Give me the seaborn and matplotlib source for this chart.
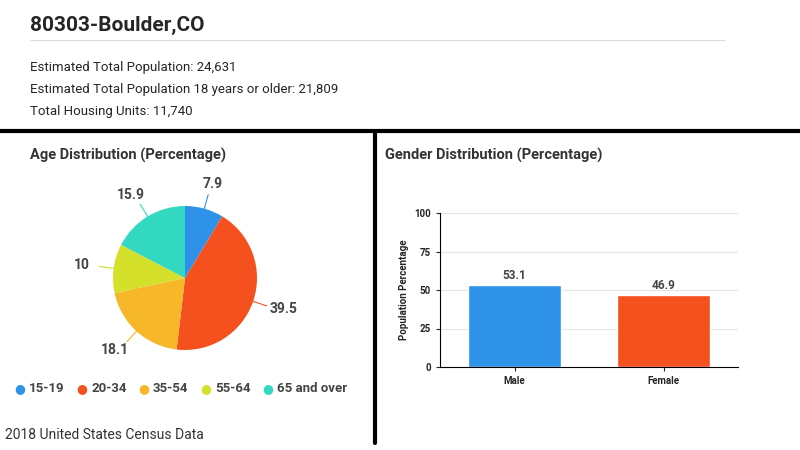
import numpy as np
import pandas as pd
import seaborn as sns
import matplotlib.pyplot as plt
from matplotlib.lines import Line2D

age_groups = ['15-19', '20-34', '35-54', '55-64', '65 and over']
age_pct = [7.9, 39.5, 18.1, 10, 15.9]
age_colors = ['#2E93E8', '#F4511E', '#F6B829', '#D4E02A', '#33D8C0']
genders = ['Male', 'Female']
gender_pct = [53.1, 46.9]
gender_colors = ['#2E93E8', '#F4511E']
info_lines = ['Estimated Total Population: 24,631',
              'Estimated Total Population 18 years or older: 21,809',
              'Total Housing Units: 11,740']

sns.set_style('white')
plt.rcParams['font.family'] = ['Roboto', 'DejaVu Sans']

W, H = 800, 450
fig = plt.figure(figsize=(8, 4.5), dpi=100)

def fx(x): return x / W
def fy(y): return 1 - y / H

fig.text(fx(30), fy(25), '80303-Boulder,CO', fontsize=15, fontweight='bold', va='center')
fig.add_artist(Line2D([fx(30), fx(725)], [fy(40), fy(40)], color='#dddddd', lw=0.8))
for i, t in enumerate(info_lines):
    fig.text(fx(30), fy(68 + i * 22), t, fontsize=9.5, va='center')
fig.add_artist(Line2D([0, 1], [fy(131), fy(131)], color='black', lw=3))
fig.add_artist(Line2D([fx(375), fx(375)], [fy(131), fy(443)], color='black', lw=3))
fig.text(fx(30), fy(155), 'Age Distribution (Percentage)', fontsize=10.5, fontweight='bold', va='center', color='#333333')
fig.text(fx(385), fy(155), 'Gender Distribution (Percentage)', fontsize=10.5, fontweight='bold', va='center', color='#333333')
fig.text(fx(5), fy(435), '2018 United States Census Data', fontsize=10, va='center', color='#333333')

# pie
r = 72
axp = fig.add_axes([fx(185 - r), fy(278 + r), 2 * r / W, 2 * r / H])
wedges, _ = axp.pie(age_pct, colors=age_colors, startangle=90, counterclock=False,
                    wedgeprops=dict(linewidth=0))
axp.set_xlim(-1, 1)
axp.set_ylim(-1, 1)
axp.set_aspect('equal')
for w, v, c in zip(wedges, age_pct, age_colors):
    ang = np.deg2rad((w.theta1 + w.theta2) / 2)
    x, y = np.cos(ang), np.sin(ang)
    axp.plot([x * 1.0, x * 1.2], [y * 1.0, y * 1.2], color=c, lw=0.8, clip_on=False)
    axp.text(x * 1.45, y * 1.35, f'{v:g}', ha='center', va='center', fontsize=10,
             fontweight='bold', color='#444444')

# legend
lx = [20, 82, 144, 206, 268]
for g, c, x in zip(age_groups, age_colors, lx):
    fig.text(fx(x), fy(389), '●', color=c, fontsize=9, va='center', ha='center')
    fig.text(fx(x + 9), fy(389), g, fontsize=9.5, fontweight='bold', va='center', color='#444444')

# bars
axb = fig.add_axes([fx(440), fy(367), (738 - 440) / W, (367 - 213) / H])
df = pd.DataFrame({'gender': genders, 'pct': gender_pct})
sns.barplot(data=df, x='gender', y='pct', hue='gender', palette=gender_colors,
            saturation=1, width=0.62, ax=axb, legend=False)
axb.set_ylim(0, 100)
axb.set_yticks([0, 25, 50, 75, 100])
axb.grid(axis='y', color='#e5e5e5', lw=0.8)
axb.set_axisbelow(True)
for s in ['top', 'right']:
    axb.spines[s].set_visible(False)
axb.spines['left'].set_color('black')
axb.spines['bottom'].set_color('black')
axb.tick_params(axis='both', labelsize=7, length=3, left=True, bottom=True)
for lbl in axb.get_xticklabels() + axb.get_yticklabels():
    lbl.set_fontweight('bold')
axb.set_xlabel('')
axb.set_ylabel('Population Percentage', fontsize=7, fontweight='bold')
for i, v in enumerate(gender_pct):
    axb.text(i, v + 2, f'{v}', ha='center', va='bottom', fontsize=8.5, fontweight='bold', color='#444444')

fig.savefig('out.png', dpi=100)
